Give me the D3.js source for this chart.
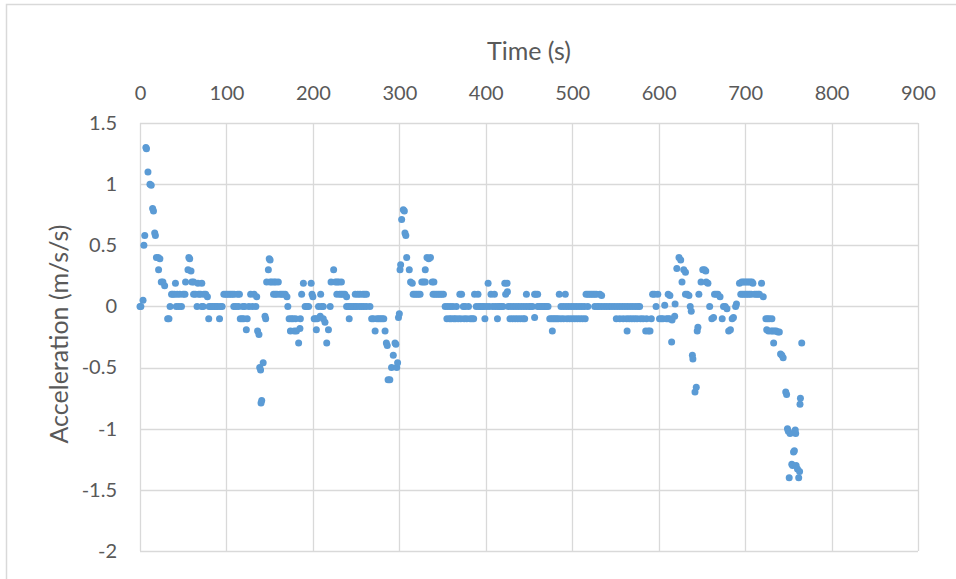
<!DOCTYPE html>
<html>
<head>
<meta charset="utf-8">
<script src="https://cdn.jsdelivr.net/npm/d3@7"></script>
<style>
  html, body { margin: 0; padding: 0; background: #fff; }
  svg { display: block; }
  text { font-family: Lato, "Open Sans", sans-serif; fill: #595959; }
</style>
</head>
<body>
<svg id="chart" width="956" height="579"></svg>
<script>
// Logged samples: time in seconds and the matching acceleration in m/s/s
const timeSec = [
  0, 1, 3.5, 4.5, 5.5, 6.8, 7.5, 9.2, 11.5, 13, 14.6, 15.6, 17, 17.8, 19, 21, 21.5, 23,
  24.6, 26.5, 28.5, 32, 33.5, 34.8, 36.5, 38, 41, 40, 42, 43, 45, 46, 48, 50, 52, 52.7,
  55.5, 56.5, 57.5, 59, 60, 62, 62, 64, 66, 67, 68, 70, 71.5, 71.5, 73, 74, 76, 78,
  79.5, 80, 82, 84, 86, 88, 90, 92, 93, 95,
  97, 99, 101, 103, 105, 107, 109, 108.5, 111, 113, 114, 115, 116, 118, 119, 120, 121, 123,
  124, 126, 128, 130, 132, 134, 135, 136, 137.6, 138.5, 139.5, 140, 140.8, 142.5, 144.6, 145.4,
  146.5, 148.5, 149.5, 150.5, 150.5, 152.5, 154.5, 155, 157, 156.5, 158.5, 160, 162, 164, 166, 168,
  170, 171, 172.5, 174, 175, 177, 178.5, 180, 181, 183.5, 185, 185.5,
  187, 189, 191, 193, 195, 198, 199, 200, 201.5, 203, 204, 205, 206.5, 208.5, 209, 210, 212, 212,
  214, 216, 218, 220, 221, 224, 226, 227.7, 228, 230, 231, 233, 233, 235, 237, 239, 239, 241,
  242, 243, 245, 247, 249, 249, 251, 252, 254.6, 254, 256.5, 258, 259, 260, 262, 262, 266, 268,
  270, 272, 274, 276, 278, 280, 282, 283.5, 285, 286, 287, 289, 291, 293, 295, 296, 297, 298,
  299, 300, 300.8, 301.5, 302.7, 304.6, 305.8, 306.5, 307.5, 308.5, 311.5, 313, 315, 316, 318, 320,
  322, 324, 326, 328, 330, 330, 332, 334, 336, 338, 340, 339, 341, 343, 345, 347, 349, 351,
  353, 355, 356, 358, 359, 360, 362, 363, 365, 366, 368, 370, 371, 372, 374, 375, 376, 378,
  380, 382, 384, 386, 387, 389, 391, 392, 394, 396, 398, 399, 401, 402.7, 404, 406, 408, 410,
  411, 413.5, 414, 416, 418, 420, 422, 423, 424.6, 425, 426, 428, 429, 431, 432, 434, 435, 437,
  438, 440, 441, 443, 444, 445, 447, 447, 450, 452, 454, 456.5, 456.5, 458, 460, 460, 462, 464,
  466, 468, 470, 472, 474, 476, 477, 478, 480, 482, 484, 485, 487, 487, 490, 490, 492, 493,
  494, 496, 497, 499, 500, 502, 503, 505, 506, 508, 509, 511, 512, 514, 515, 516, 518, 518,
  520, 522, 524, 526, 526, 528, 529, 531, 532, 534, 534, 537, 540, 543, 546, 549, 551, 552,
  555, 555, 558, 559, 561, 563, 563.5, 564, 566, 567, 569, 570, 572, 573, 575, 576, 578, 579,
  582, 585, 586, 588, 590, 591.5, 593, 595, 597, 599, 601, 603, 605, 607, 609, 611, 611, 613,
  613, 615, 615.5, 618.5, 619, 621, 623.5, 625.5, 627, 629, 631, 631, 633, 635, 636.5, 637.7, 639, 639.6,
  642, 643.5, 644.6, 645.4, 646.5, 649, 651, 653, 654.5, 655, 657, 659, 661.5, 663.5, 664.6, 666.5, 668.5, 671,
  673.5, 675, 677, 679, 681, 683, 685, 686.5, 689, 690, 693.5, 695, 696, 697, 698, 699, 700, 701,
  702, 703, 704, 705, 706, 707, 708, 709, 711, 713, 715, 716.5, 719, 721, 724, 725, 726, 727,
  728, 730, 731, 732, 733, 734, 736, 738, 739.6, 741, 742.5, 744, 747, 748, 749, 750, 751, 752,
  754, 755, 756, 757, 758, 758.5, 759, 760.6, 762, 763, 763.5, 764, 765.5
];

const accel = [
  0, 0, 0.05, 0.5, 0.58, 1.3, 1.29, 1.1, 1.0, 0.99, 0.8, 0.78, 0.6, 0.58, 0.4, 0.4, 0.3, 0.39,
  0.2, 0.2, 0.17, -0.1, -0.1, 0, 0.1, 0.1, 0.19, 0.1, 0, 0.1, 0, 0.1, 0, 0.1, 0.1, 0.2,
  0.3, 0.4, 0.39, 0.29, 0.2, 0.2, 0.1, 0.1, 0, 0.19, 0.1, 0.1, 0.19, 0, 0, 0.1, 0.1, 0.08,
  -0.1, 0, 0, 0, 0, 0, 0, -0.1, 0, 0,
  0.1, 0.1, 0.1, 0.1, 0.1, 0.1, 0.1, 0, 0, 0.1, 0, 0.1, -0.1, -0.1, 0, -0.1, 0, -0.19,
  -0.1, 0, 0.1, 0, 0.1, 0, 0.08, -0.2, -0.23, -0.5, -0.52, -0.79, -0.77, -0.46, -0.08, -0.1,
  0.2, 0.3, 0.39, 0.38, 0.2, 0.2, 0.1, 0.2, 0.2, 0.1, 0.1, 0.2, 0.1, 0.1, 0.1, 0.1,
  0.08, 0, -0.1, -0.2, -0.1, -0.1, -0.2, -0.1, -0.2, -0.3, -0.18, -0.1,
  0.1, 0.19, 0, 0, 0, 0.19, 0.1, 0.08, -0.1, -0.1, -0.19, -0.1, 0, -0.08, 0.1, 0, -0.1, 0,
  -0.13, -0.3, -0.19, 0, 0.2, 0.3, 0.2, 0.1, 0.2, 0.2, 0.1, 0.2, 0.1, 0.1, 0.1, 0.08, 0, 0,
  -0.1, 0, 0, 0, 0.1, 0, 0, 0.1, 0.1, 0, 0, 0.1, 0, 0.1, 0.1, 0, 0, -0.1,
  -0.1, -0.2, -0.1, -0.1, -0.1, -0.1, -0.1, -0.2, -0.3, -0.32, -0.6, -0.6, -0.5, -0.4, -0.3, -0.31, -0.5, -0.46,
  -0.09, -0.06, 0.3, 0.34, 0.71, 0.79, 0.78, 0.6, 0.58, 0.4, 0.3, 0.2, 0.19, 0.1, 0.1, 0.1,
  0.1, 0.1, 0.2, 0.2, 0.3, 0.2, 0.4, 0.39, 0.4, 0.2, 0.2, 0.1, 0.1, 0.1, 0.1, 0.1, 0.1, 0.1,
  0, -0.1, 0, -0.1, 0, -0.1, 0, -0.1, -0.1, 0, -0.1, 0.1, -0.1, 0.1, 0, -0.1, 0, -0.1,
  0, -0.1, -0.1, -0.1, 0.1, 0, 0.1, 0, 0, 0, 0, -0.1, 0, 0.19, 0, 0.1, 0, 0.1,
  0, -0.1, 0, 0, 0, 0, 0.19, 0.1, 0.19, 0.12, 0, -0.1, 0, -0.1, 0, -0.1, 0, -0.1,
  0, -0.1, 0, -0.1, 0, -0.1, 0.1, 0, 0, 0, 0, 0.1, -0.09, 0.1, 0.1, 0, 0, 0,
  0, 0, 0, 0, -0.1, -0.1, -0.2, -0.1, -0.1, -0.1, -0.1, 0.1, 0, -0.1, -0.1, 0, 0.1, 0,
  -0.1, 0, -0.1, 0, -0.1, 0, -0.1, 0, -0.1, 0, -0.1, 0, -0.1, 0, -0.1, 0.1, 0.1, 0,
  0.1, 0.1, 0.1, 0.1, 0, 0.1, 0, 0, 0.1, 0.09, 0, 0, 0, 0, 0, 0, -0.1, 0,
  0, -0.1, 0, -0.1, 0, -0.1, -0.2, 0, -0.1, 0, -0.1, 0, -0.1, 0, -0.1, 0, 0, -0.1,
  -0.1, -0.2, -0.1, -0.2, -0.2, -0.1, 0.1, 0.1, 0, 0.1, -0.1, -0.1, -0.1, 0.01, -0.1, 0.1, -0.1, 0.09,
  -0.1, -0.29, -0.11, -0.08, 0.02, 0.31, 0.4, 0.38, 0.2, 0.3, 0.28, 0.1, 0.1, 0.09, 0, -0.04, -0.4, -0.43,
  -0.7, -0.66, -0.2, -0.17, 0.1, 0.2, 0.3, 0.3, 0.29, 0.2, 0.19, 0, -0.1, -0.09, 0.1, 0.1, 0.1, 0.08,
  -0.1, 0, 0, -0.02, -0.2, -0.19, -0.1, -0.09, 0, 0.02, 0.19, 0.1, 0.2, 0.1, 0.2, 0.1, 0.2, 0.1,
  0.2, 0.1, 0.2, 0.1, 0.2, 0.1, 0.2, 0.19, 0.1, 0.1, 0.1, 0.1, 0.19, 0.08, -0.1, -0.19, -0.1, -0.2,
  -0.1, -0.2, -0.1, -0.2, -0.3, -0.2, -0.2, -0.21, -0.21, -0.39, -0.4, -0.42, -0.7, -0.72, -1.0, -1.02, -1.4, -1.04,
  -1.29, -1.3, -1.19, -1.18, -1.01, -1.04, -1.3, -1.33, -1.4, -1.35, -0.8, -0.75, -0.3
];

// Axis tick values
const xTicks = [0, 100, 200, 300, 400, 500, 600, 700, 800, 900];
const yTicks = [1.5, 1, 0.5, 0, -0.5, -1, -1.5, -2];

const xTitle = "Time (s)";
const yTitle = "Acceleration (m/s/s)";

const points = timeSec.map((t, i) => ({ t, a: accel[i] }));

const svg = d3.select("#chart");
const plot = { left: 140, right: 918, top: 123, bottom: 551 };

const x = d3.scaleLinear().domain([0, 900]).range([plot.left, plot.right]);
const y = d3.scaleLinear().domain([-2, 1.5]).range([plot.bottom, plot.top]);

// Chart frame
svg.append("rect")
  .attr("x", 6.5).attr("y", 4.5)
  .attr("width", 1000).attr("height", 1000)
  .attr("fill", "none")
  .attr("stroke", "#d9d9d9")
  .attr("stroke-width", 1.5);

// Gridlines
const grid = svg.append("g");
grid.selectAll("line.v").data(xTicks).join("line")
  .attr("class", "v")
  .attr("x1", d => Math.round(x(d)) + 0.5).attr("x2", d => Math.round(x(d)) + 0.5)
  .attr("y1", plot.top).attr("y2", plot.bottom)
  .attr("stroke", "#d9d9d9").attr("stroke-width", 1.3);
grid.selectAll("line.h").data(yTicks).join("line")
  .attr("class", "h")
  .attr("y1", d => Math.round(y(d)) + 0.5).attr("y2", d => Math.round(y(d)) + 0.5)
  .attr("x1", plot.left).attr("x2", plot.right)
  .attr("stroke", "#d9d9d9").attr("stroke-width", 1.3);

// Top time axis (labels only)
const xAxis = d3.axisTop(x).tickValues(xTicks).tickSize(0).tickPadding(0).tickFormat(d => String(d));
const gx = svg.append("g").attr("transform", `translate(0, 100)`).call(xAxis);
gx.select(".domain").remove();
gx.selectAll("text").attr("font-size", 20).attr("fill", "#595959")
  .style("font-family", "Lato, 'Open Sans', sans-serif");

// Left acceleration axis (labels only)
const yAxis = d3.axisLeft(y).tickValues(yTicks).tickSize(0).tickPadding(0).tickFormat(d => String(d));
const gy = svg.append("g").attr("transform", `translate(117, 0)`).call(yAxis);
gy.select(".domain").remove();
gy.selectAll("text").attr("font-size", 20).attr("fill", "#595959")
  .style("font-family", "Lato, 'Open Sans', sans-serif");

// Axis titles
svg.append("text")
  .attr("x", 529).attr("y", 60)
  .attr("text-anchor", "middle")
  .attr("font-size", 25)
  .text(xTitle);

svg.append("text")
  .attr("transform", `translate(68, 334) rotate(-90)`)
  .attr("text-anchor", "middle")
  .attr("font-size", 25)
  .text(yTitle);

// Samples
svg.append("g").selectAll("circle").data(points).join("circle")
  .attr("cx", d => x(d.t))
  .attr("cy", d => y(d.a))
  .attr("r", 3.5)
  .attr("fill", "#5b9bd5");
</script>
</body>
</html>
